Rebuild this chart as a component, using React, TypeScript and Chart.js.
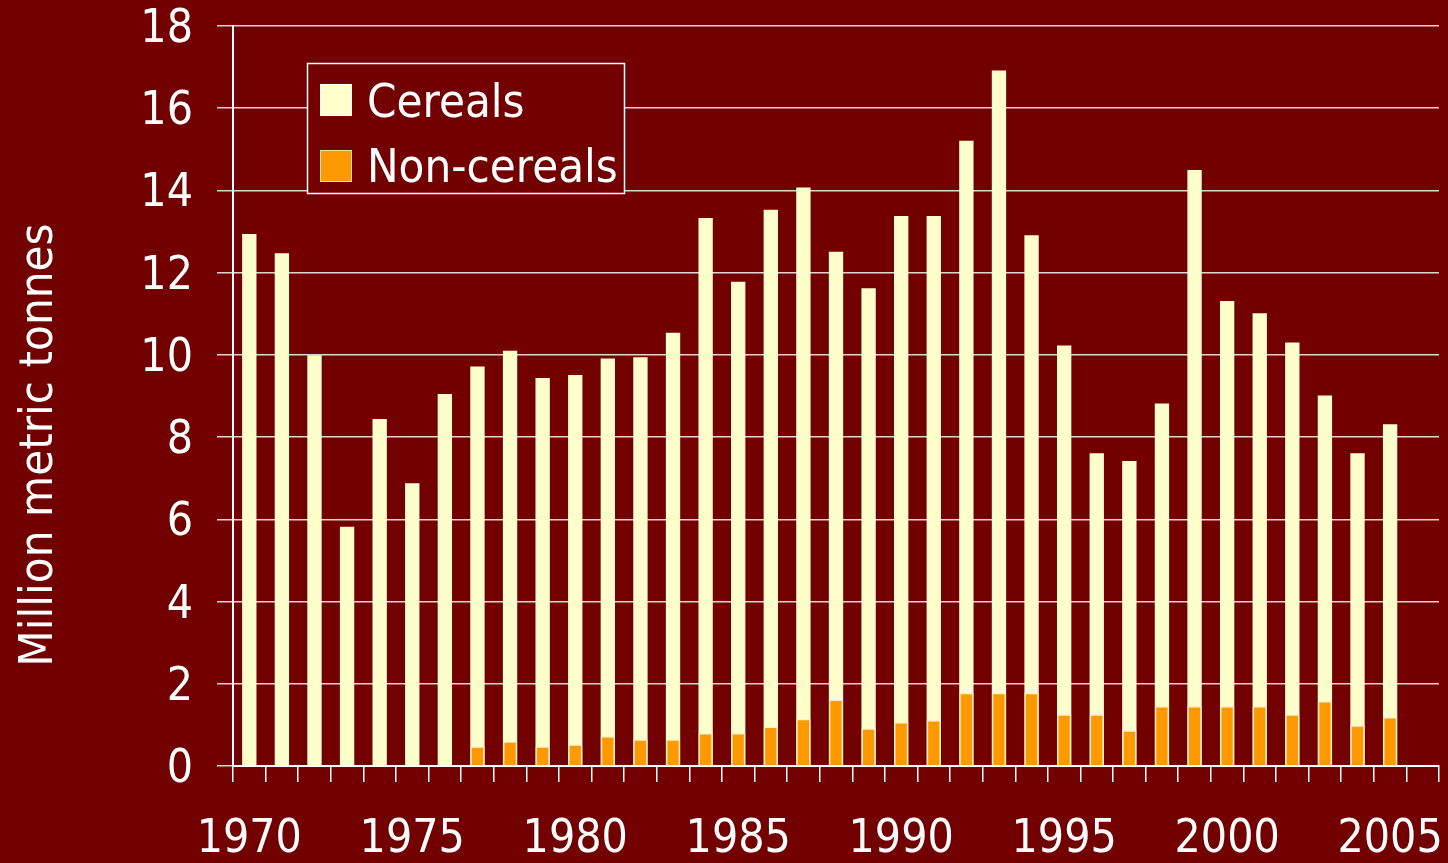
import React, { useEffect, useRef } from 'react';
import { Chart, registerables } from 'chart.js';

Chart.register(...registerables);

// ---- Data ----
const years = [
  '1970', '1971', '1972', '1973', '1974', '1975', '1976', '1977', '1978', '1979',
  '1980', '1981', '1982', '1983', '1984', '1985', '1986', '1987', '1988', '1989',
  '1990', '1991', '1992', '1993', '1994', '1995', '1996', '1997', '1998', '1999',
  '2000', '2001', '2002', '2003', '2004', '2005', '2006',
];
const shownYearLabels = ['1970', '1975', '1980', '1985', '1990', '1995', '2000', '2005'];

const cereals = [
  12.94, 12.47, 9.99, 5.82, 8.44, 6.88, 9.05, 9.72, 10.1, 9.44,
  9.51, 9.91, 9.94, 10.54, 13.33, 11.78, 13.53, 14.07, 12.51, 11.62,
  13.38, 13.38, 15.21, 16.92, 12.91, 10.23, 7.61, 7.42, 8.82, 14.5,
  11.31, 11.01, 10.3, 9.01, 7.61, 8.31, null,
];
const nonCereals = [
  null, null, null, null, null, null, null, 0.48, 0.6, 0.48,
  0.53, 0.73, 0.65, 0.65, 0.8, 0.8, 0.96, 1.15, 1.62, 0.92,
  1.07, 1.12, 1.78, 1.78, 1.78, 1.26, 1.26, 0.87, 1.46, 1.46,
  1.46, 1.46, 1.26, 1.58, 0.99, 1.19, null,
];

const seriesNames = ['Cereals', 'Non-cereals'];
const seriesColors = ['#FFFFCC', '#FF9900'];
const yTitle = 'Million metric tonnes';

const BG = '#720000';
const FONT = "'DejaVu Sans Condensed', 'Liberation Sans', sans-serif";
const FS = 46;
const FS_BIG = 47;

const overlayPlugin = {
  id: 'overlay',
  afterDraw(chart: any) {
    const ctx = chart.ctx;
    ctx.save();
    // Y axis title
    ctx.fillStyle = '#FFFFFF';
    ctx.font = `${FS_BIG}px ${FONT}`;
    ctx.translate(52, 445);
    ctx.rotate(-Math.PI / 2);
    ctx.textAlign = 'center';
    ctx.textBaseline = 'alphabetic';
    ctx.fillText(yTitle, 0, 0);
    ctx.restore();

    // Legend box
    ctx.save();
    ctx.fillStyle = BG;
    ctx.fillRect(307, 63, 318, 131);
    ctx.strokeStyle = '#FFFFFF';
    ctx.lineWidth = 1.5;
    ctx.strokeRect(307.5, 63.5, 317, 130);
    const rows = [
      { y: 84, base: 117 },
      { y: 150, base: 182 },
    ];
    ctx.font = `${FS_BIG}px ${FONT}`;
    ctx.textAlign = 'left';
    ctx.textBaseline = 'alphabetic';
    seriesNames.forEach((name, i) => {
      const r = rows[i];
      ctx.fillStyle = seriesColors[i];
      ctx.fillRect(320, r.y, 32, 32);
      ctx.strokeStyle = i === 0 ? '#FFFFFF' : '#FFE0A0';
      ctx.lineWidth = 1;
      ctx.strokeRect(320.5, r.y + 0.5, 31, 31);
      ctx.fillStyle = '#FFFFFF';
      ctx.fillText(name, 367, r.base);
    });
    ctx.restore();
  },
};

export default function App() {
  const canvasRef = useRef<HTMLCanvasElement | null>(null);

  useEffect(() => {
    const canvas = canvasRef.current;
    if (!canvas) return;
    const chart = new Chart(canvas, {
      type: 'bar',
      data: {
        labels: years,
        datasets: [
          {
            label: seriesNames[0],
            data: cereals,
            backgroundColor: seriesColors[0],
            borderWidth: 0,
            grouped: false,
            order: 1,
            barPercentage: 0.44,
            categoryPercentage: 1,
          },
          {
            label: seriesNames[1],
            data: nonCereals,
            backgroundColor: seriesColors[1],
            borderColor: '#FFF2C8',
            borderWidth: 1.5,
            grouped: false,
            order: 0,
            barPercentage: 0.44,
            categoryPercentage: 1,
          },
        ],
      } as any,
      options: {
        animation: false,
        responsive: false,
        maintainAspectRatio: false,
        layout: { padding: { top: 26, right: 9, left: 0, bottom: 0 } },
        plugins: {
          legend: { display: false },
          tooltip: { enabled: false },
        },
        scales: {
          x: {
            offset: true,
            grid: {
              display: true,
              drawOnChartArea: false,
              drawTicks: true,
              tickLength: 16,
              color: '#FFFFFF',
              lineWidth: 1.5,
              offset: true,
            },
            border: { display: true, color: '#FFFFFF', width: 2 },
            ticks: {
              autoSkip: false,
              maxRotation: 0,
              minRotation: 0,
              padding: 35,
              color: '#FFFFFF',
              font: { family: FONT, size: FS, lineHeight: 1 },
              callback: (_v: any, i: number) =>
                shownYearLabels.includes(years[i]) ? years[i] : '',
            },
            afterFit: (scale: any) => {
              scale.height = 97;
              scale.paddingLeft = 0;
              scale.paddingRight = 0;
              scale.paddingTop = 0;
              scale.paddingBottom = 0;
            },
          },
          y: {
            min: 0,
            max: 18,
            grid: {
              color: 'rgba(255,255,255,0.82)',
              lineWidth: 1.5,
              drawTicks: true,
              tickLength: 16,
            },
            border: { display: true, color: '#FFFFFF', width: 2 },
            ticks: {
              stepSize: 2,
              padding: 24,
              labelOffset: 4,
              color: '#FFFFFF',
              font: { family: FONT, size: FS, lineHeight: 1 },
            },
            afterFit: (scale: any) => {
              scale.width = 233;
              scale.paddingLeft = 0;
              scale.paddingRight = 0;
              scale.paddingTop = 0;
              scale.paddingBottom = 0;
            },
          },
        },
      } as any,
      plugins: [overlayPlugin],
    });
    return () => chart.destroy();
  }, []);

  return (
    <div
      style={{
        position: 'fixed',
        left: 0,
        top: 0,
        width: 1448,
        height: 863,
        background: BG,
      }}
    >
      <canvas ref={canvasRef} width={1448} height={863} style={{ display: 'block' }} />
    </div>
  );
}
